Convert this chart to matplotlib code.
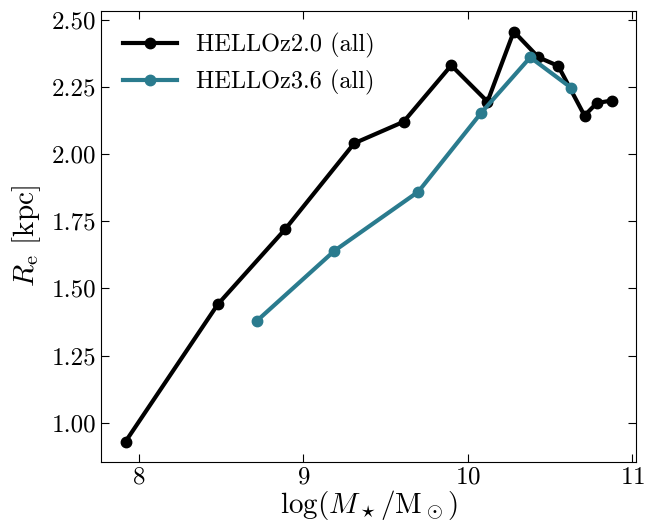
import matplotlib
matplotlib.use("Agg")
import matplotlib.pyplot as plt

plt.rcParams['font.family'] = 'serif'
plt.rcParams['font.serif'] = ['cmr10', 'DejaVu Serif']
plt.rcParams['mathtext.fontset'] = 'cm'
plt.rcParams['axes.formatter.use_mathtext'] = True

# median size vs stellar mass, z~2 sample
mass_z20 = [7.92, 8.48, 8.89, 9.31, 9.61, 9.90, 10.12, 10.28, 10.43, 10.55, 10.71, 10.785, 10.875]
re_z20 = [0.93, 1.44, 1.72, 2.04, 2.12, 2.33, 2.195, 2.456, 2.36, 2.328, 2.143, 2.19, 2.199]

# z~3.6 sample
mass_z36 = [8.72, 9.19, 9.70, 10.08, 10.38, 10.63]
re_z36 = [1.38, 1.64, 1.86, 2.152, 2.36, 2.246]

fig, ax = plt.subplots(figsize=(6.45, 5.25), dpi=100)
fig.subplots_adjust(left=0.157, right=0.986, top=0.979, bottom=0.12)

ax.plot(mass_z20, re_z20, '-o', color='black', lw=3, ms=7.5, label='HELLOz2.0 (all)')
ax.plot(mass_z36, re_z36, '-o', color='#2a7b8e', lw=3, ms=7.5, label='HELLOz3.6 (all)')

ax.set_xlabel(r'$\log(M_\star/\mathrm{M}_\odot)$', fontsize=21, labelpad=-1)
ax.set_ylabel(r'$R_\mathrm{e}$ [kpc]', fontsize=21, labelpad=6)

ax.tick_params(direction='in', top=True, right=True, labelsize=18, length=6)
ax.set_xticks([8, 9, 10, 11])
ax.set_yticks([1.0, 1.25, 1.5, 1.75, 2.0, 2.25, 2.5])
ax.set_yticklabels(['1.00', '1.25', '1.50', '1.75', '2.00', '2.25', '2.50'])

ax.legend(loc='upper left', frameon=False, fontsize=17.5, handlelength=2.2)

fig.savefig('out.png', dpi=100)
